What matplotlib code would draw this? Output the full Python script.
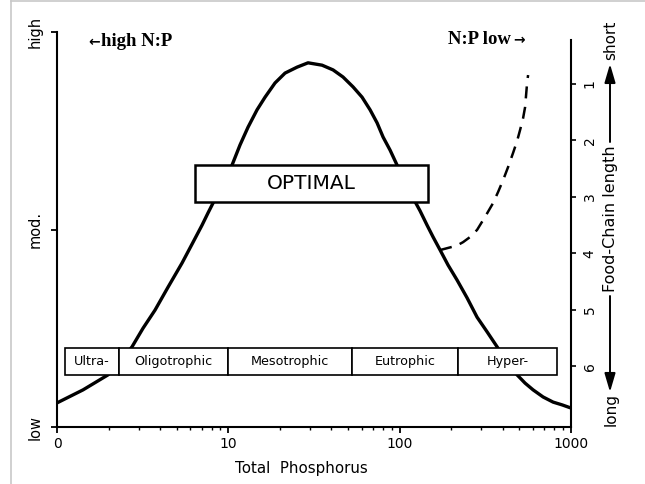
import matplotlib
matplotlib.use('Agg')
import matplotlib.pyplot as plt
from matplotlib.patches import Rectangle
from matplotlib.lines import Line2D

# ---- data ----
tp = [1.0, 1.419, 1.985, 2.333, 2.741, 3.177, 3.734, 4.446, 5.366, 6.141, 7.023,
      7.612, 8.364, 9.313, 10.51, 11.70, 13.03, 14.71, 16.38, 18.73, 21.43, 25.18,
      29.19, 35.24, 40.87, 46.72, 53.46, 60.33, 67.19, 73.82, 80.03, 87.9, 96.57,
      107.5, 119.7, 131.6, 144.5, 156.7, 172.2, 191.6, 216.3, 247.4, 283.0, 323.7,
      370.4, 423.6, 484.5, 539.7, 600.8, 687.3, 786.3, 887.4, 1000]
biomass = [0.061, 0.094, 0.132, 0.165, 0.203, 0.250, 0.296, 0.354, 0.415, 0.463,
           0.511, 0.542, 0.577, 0.618, 0.663, 0.714, 0.759, 0.803, 0.835, 0.871,
           0.896, 0.911, 0.922, 0.916, 0.904, 0.886, 0.861, 0.835, 0.803, 0.770,
           0.734, 0.701, 0.663, 0.623, 0.580, 0.547, 0.511, 0.481, 0.448, 0.410,
           0.372, 0.327, 0.278, 0.241, 0.203, 0.165, 0.132, 0.111, 0.094, 0.076,
           0.063, 0.056, 0.048]
dash_tp = [172.2, 186.6, 202.2, 219.2, 234.5, 257.6, 283.0, 315.1, 351.0, 375.4,
           401.5, 429.3, 459.2, 484.5, 504.5, 525.3, 539.7, 547.0, 554.3, 561.8]
dash_val = [0.448, 0.452, 0.456, 0.461, 0.468, 0.481, 0.499, 0.532, 0.567, 0.595,
            0.625, 0.658, 0.694, 0.724, 0.752, 0.782, 0.810, 0.841, 0.871, 0.891]

zones = ["Ultra-", "Oligotrophic", "Mesotrophic", "Eutrophic", "Hyper-"]
zone_edges = [1.11, 2.3, 10, 52.7, 219, 830]
optimal_range = [6.39, 146.5]
optimal_band = [0.570, 0.663]
zone_band = [0.132, 0.200]

x_ticks = [1, 10, 100, 1000]
x_ticklabels = ["0", "10", "100", "1000"]
left_ticks = [0, 0.5, 1]
left_labels = ["low", "mod.", "high"]
fcl_ticks = [1, 2, 3, 4, 5, 6]
fcl_labels = ["1", "2", "3", "4", "5", "6"]

W, H = 645, 484
fig = plt.figure(figsize=(6.45, 4.84), dpi=100)


def fx(px):
    return px / W


def fy(py):
    return 1 - py / H


ax = fig.add_axes([fx(57), fy(427), fx(571) - fx(57), fy(32) - fy(427)])
ax.set_xscale('log')
ax.set_xlim(1, 1000)
ax.set_ylim(0, 1)
for s in ['top', 'right']:
    ax.spines[s].set_visible(False)
for s in ['left', 'bottom']:
    ax.spines[s].set_linewidth(1.5)

ax.set_xticks(x_ticks)
ax.set_xticklabels(x_ticklabels, fontsize=10)
ax.tick_params(axis='x', which='major', direction='out', length=4, width=1.3, pad=3)
ax.tick_params(axis='x', which='minor', direction='out', length=2.5, width=1.0)
ax.set_yticks(left_ticks)
ax.set_yticklabels(left_labels, rotation=90, va='center', fontsize=10.5)
ax.tick_params(axis='y', direction='out', length=4.5, width=1.3, pad=6)

# main curve
ax.plot(tp, biomass, color='black', lw=2.4, zorder=2, solid_capstyle='round',
        solid_joinstyle='round')
# dashed branch
ax.plot(dash_tp, dash_val, color='black', lw=1.8, linestyle=(0, (4.8, 3.4)), zorder=2)

# OPTIMAL box
ax.add_patch(Rectangle((optimal_range[0], optimal_band[0]),
                       optimal_range[1] - optimal_range[0],
                       optimal_band[1] - optimal_band[0],
                       facecolor='white', edgecolor='black', lw=1.8, zorder=3))
ax.text((optimal_range[0] * optimal_range[1]) ** 0.5, sum(optimal_band) / 2, "OPTIMAL",
        ha='center', va='center', fontsize=14.5, zorder=4)

# trophic state boxes
for i, name in enumerate(zones):
    x0, x1 = zone_edges[i], zone_edges[i + 1]
    ax.add_patch(Rectangle((x0, zone_band[0]), x1 - x0, zone_band[1] - zone_band[0],
                           facecolor='white', edgecolor='black', lw=1.2, zorder=3))
    ax.text((x0 * x1) ** 0.5, sum(zone_band) / 2, name, ha='center', va='center',
            fontsize=9.2, zorder=4)

# right axis: food-chain length
ax2 = ax.twinx()
ax2.set_ylim(7.08, 0.078)
ax2.spines['top'].set_visible(False)
ax2.spines['left'].set_visible(False)
ax2.spines['bottom'].set_visible(False)
ax2.spines['right'].set_bounds(7.08, 0.22)
ax2.spines['right'].set_linewidth(1.5)
ax2.set_yticks(fcl_ticks)
ax2.set_yticklabels(fcl_labels, rotation=90, va='center', fontsize=10)
ax2.tick_params(axis='y', direction='out', length=3.5, width=1.2, pad=5)

# serif annotations
fig.text(fx(88), fy(42), "\u2190", family=['DejaVu Sans'], fontweight='bold',
         fontsize=10, ha='left', va='center')
fig.text(fx(101), fy(42), "high N:P", family=['Liberation Serif'], fontweight='bold',
         fontsize=13.5, ha='left', va='center')
fig.text(fx(511), fy(40), "N:P low", family=['Liberation Serif'], fontweight='bold',
         fontsize=13.5, ha='right', va='center')
fig.text(fx(513), fy(40), "\u2192", family=['DejaVu Sans'], fontweight='bold',
         fontsize=10, ha='left', va='center')

# food-chain length label with arrows
fig.text(fx(611), fy(40), "short", rotation=90, ha='center', va='center', fontsize=11)
fig.text(fx(611), fy(219), "Food-Chain length", rotation=90, ha='center', va='center',
         fontsize=11.5)
fig.text(fx(611), fy(410), "long", rotation=90, ha='center', va='center', fontsize=11)
arrow = dict(arrowstyle='-|>,head_length=0.75,head_width=0.22', color='black',
             lw=1.4, mutation_scale=15, shrinkA=0, shrinkB=0)
ax.annotate('', xy=(fx(610), fy(64)), xytext=(fx(610), fy(142)),
            xycoords='figure fraction', textcoords='figure fraction',
            arrowprops=arrow, annotation_clip=False)
ax.annotate('', xy=(fx(610), fy(392)), xytext=(fx(610), fy(296)),
            xycoords='figure fraction', textcoords='figure fraction',
            arrowprops=arrow, annotation_clip=False)

# x label
fig.text(fx(301), fy(468), "Total  Phosphorus", ha='center', va='center', fontsize=10.8)

# light grey scan border
fig.add_artist(Line2D([fx(11), 1], [fy(1), fy(1)], color='#c8c8c8', lw=1.2,
                      transform=fig.transFigure))
fig.add_artist(Line2D([fx(11), fx(11)], [0, fy(1)], color='#c8c8c8', lw=1.2,
                      transform=fig.transFigure))

fig.savefig('out.png', dpi=100)
